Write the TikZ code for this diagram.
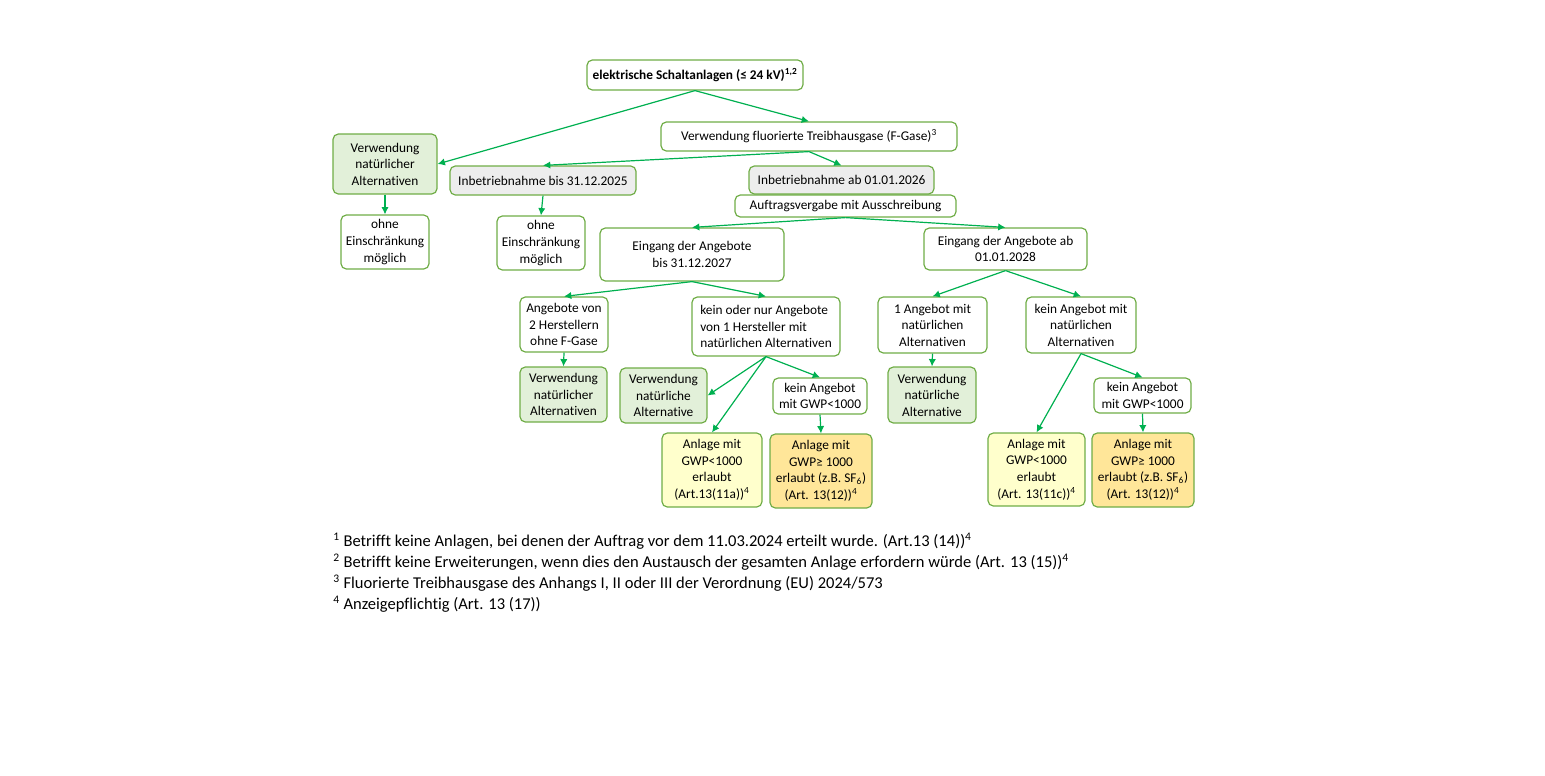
\documentclass[tikz,border=0pt]{standalone}
\usepackage{fontspec}
\setmainfont{Carlito}[Ligatures={NoCommon}]
\usetikzlibrary{arrows.meta}
\definecolor{boxgreen}{HTML}{70AD47}
\definecolor{arrowgreen}{HTML}{00B050}
\definecolor{altfill}{HTML}{E2F0D9}
\definecolor{grayfill}{HTML}{EDEDED}
\definecolor{lowfill}{HTML}{FFFFCC}
\definecolor{highfill}{HTML}{FFE699}
\begin{document}
\begin{tikzpicture}[x=0.75pt, y=-0.75pt,
  box/.style={rectangle, rounded corners=4pt, draw=boxgreen, line width=0.9pt, fill=white, align=center, inner sep=1pt, font=\fontsize{10}{12.4}\selectfont},
  altbox/.style={box, fill=altfill},
  graybox/.style={box, fill=grayfill},
  lowbox/.style={box, fill=lowfill},
  highbox/.style={box, fill=highfill},
  link/.style={draw=arrowgreen, line width=0.9pt, -{Latex[length=5.5pt, width=5.5pt]}}]
  \useasboundingbox (0, 0) rectangle (1545, 775);
  % top level
  \node (schalt) [box, minimum width=162pt, minimum height=22.5pt] at (695, 75) {\textbf{elektrische Schaltanlagen (≤ 24 kV)\textsuperscript{1,2}}};
  \node (natalt) [altbox, minimum width=78pt, minimum height=45pt] at (385, 164) {Verwendung\\natürlicher\\Alternativen};
  \node (fgas) [box, minimum width=222pt, minimum height=21.75pt] at (809, 136.5) {Verwendung fluorierte Treibhausgase (F-Gase)\textsuperscript{3}};
  \node (bis2025) [graybox, minimum width=139.5pt, minimum height=21.75pt] at (543, 180.5) {Inbetriebnahme bis 31.12.2025};
  \node (ab2026) [graybox, minimum width=138.75pt, minimum height=21pt] at (841.5, 180) {Inbetriebnahme ab 01.01.2026};
  \node (auftrag) [box, minimum width=165.75pt, minimum height=16.5pt] at (845.5, 206) {Auftragsvergabe mit Ausschreibung};
  \node (ohneA) [box, minimum width=66pt, minimum height=40.5pt] at (385, 242) {ohne\\Einschränkung\\möglich};
  \node (ohneB) [box, minimum width=66pt, minimum height=40.5pt] at (541, 243) {ohne\\Einschränkung\\möglich};
  % Eingang der Angebote
  \node (eingbis) [box, minimum width=138pt, minimum height=39.75pt] at (692, 254.5) {Eingang der Angebote\\bis 31.12.2027};
  \node (eingab) [box, minimum width=122.25pt, minimum height=31.5pt] at (1005.5, 249) {Eingang der Angebote ab\\01.01.2028};
  \node (zweiherst) [box, minimum width=66pt, minimum height=41.25pt] at (564, 324.5) {Angebote von\\2 Herstellern\\ohne F-Gase};
  \node (keinoder) [box, align=left, minimum width=111pt, minimum height=44.25pt] at (766, 326.5) {kein oder nur Angebote\\von 1 Hersteller mit\\natürlichen Alternativen};
  \node (einangebot) [box, minimum width=81.75pt, minimum height=42pt] at (932.5, 325) {1 Angebot mit\\natürlichen\\Alternativen};
  \node (keinangebot) [box, minimum width=82.5pt, minimum height=42pt] at (1081, 325) {kein Angebot mit\\natürlichen\\Alternativen};
  % results
  \node (natzwei) [altbox, minimum width=65.25pt, minimum height=41.25pt] at (563.5, 394.5) {Verwendung\\natürlicher\\Alternativen};
  \node (natdrei) [altbox, minimum width=65.25pt, minimum height=41.25pt] at (663.5, 395.5) {Verwendung\\natürliche\\Alternative};
  \node (gwpA) [box, minimum width=70.5pt, minimum height=27pt] at (820, 396) {kein Angebot\\mit GWP<1000};
  \node (natvier) [altbox, minimum width=66pt, minimum height=42pt] at (932, 395) {Verwendung\\natürliche\\Alternative};
  \node (gwpB) [box, minimum width=72.75pt, minimum height=26.25pt] at (1142.5, 395.5) {kein Angebot\\mit GWP<1000};
  \node (anlA) [lowbox, minimum width=75pt, minimum height=55.5pt] at (712, 470) {Anlage mit\\GWP<1000\\erlaubt\\(Art.13(11a))\textsuperscript{4}};
  \node (anlB) [highbox, minimum width=76.5pt, minimum height=55.5pt] at (821, 471) {Anlage mit\\GWP≥ 1000\\erlaubt (z.B. SF\textsubscript{6})\\(Art. 13(12))\textsuperscript{4}};
  \node (anlC) [lowbox, minimum width=72.75pt, minimum height=54.75pt] at (1036.5, 469.5) {Anlage mit\\GWP<1000\\erlaubt\\(Art. 13(11c))\textsuperscript{4}};
  \node (anlD) [highbox, minimum width=76.5pt, minimum height=55.5pt] at (1143, 470) {Anlage mit\\GWP≥ 1000\\erlaubt (z.B. SF\textsubscript{6})\\(Art. 13(12))\textsuperscript{4}};
  % footnotes
  \node (notes) [anchor=north west, inner sep=0pt, align=left, font=\fontsize{12.4}{15.75}\selectfont] at (333, 533) {\textsuperscript{1} Betrifft keine Anlagen, bei denen der Auftrag vor dem 11.03.2024 erteilt wurde. (Art.13 (14))\textsuperscript{4}\\
    \textsuperscript{2} Betrifft keine Erweiterungen, wenn dies den Austausch der gesamten Anlage erfordern würde (Art. 13 (15))\textsuperscript{4}\\
    \textsuperscript{3} Fluorierte Treibhausgase des Anhangs I, II oder III der Verordnung (EU) 2024/573\\
    \textsuperscript{4} Anzeigepflichtig (Art. 13 (17))};
  % arrows
  \draw [link] (schalt.south) -- (natalt.east);
  \draw [link] (schalt.south) -- (fgas.north);
  \draw [link] (fgas.south) -- (bis2025.north);
  \draw [link] (fgas.south) -- (ab2026.north);
  \draw [link] (natalt.south) -- (ohneA.north);
  \draw [link] (bis2025.south) -- (ohneB.north);
  \draw [link] (auftrag.south) -- (eingbis.north);
  \draw [link] (auftrag.south) -- (eingab.north);
  \draw [link] (eingbis.south) -- (zweiherst.north);
  \draw [link] (eingbis.south) -- (keinoder.north);
  \draw [link] (eingab.south) -- (einangebot.north);
  \draw [link] (eingab.south) -- (keinangebot.north);
  \draw [link] (zweiherst.south) -- (natzwei.north);
  \draw [link] (keinoder.south) -- (natdrei.east);
  \draw [link] (keinoder.south) -- (gwpA.north);
  \draw [link] (keinoder.south) -- (anlA.north);
  \draw [link] (gwpA.south) -- (anlB.north);
  \draw [link] (einangebot.south) -- (natvier.north);
  \draw [link] (keinangebot.south) -- (anlC.north);
  \draw [link] (keinangebot.south) -- (gwpB.north);
  \draw [link] (gwpB.south) -- (anlD.north);
\end{tikzpicture}
\end{document}
